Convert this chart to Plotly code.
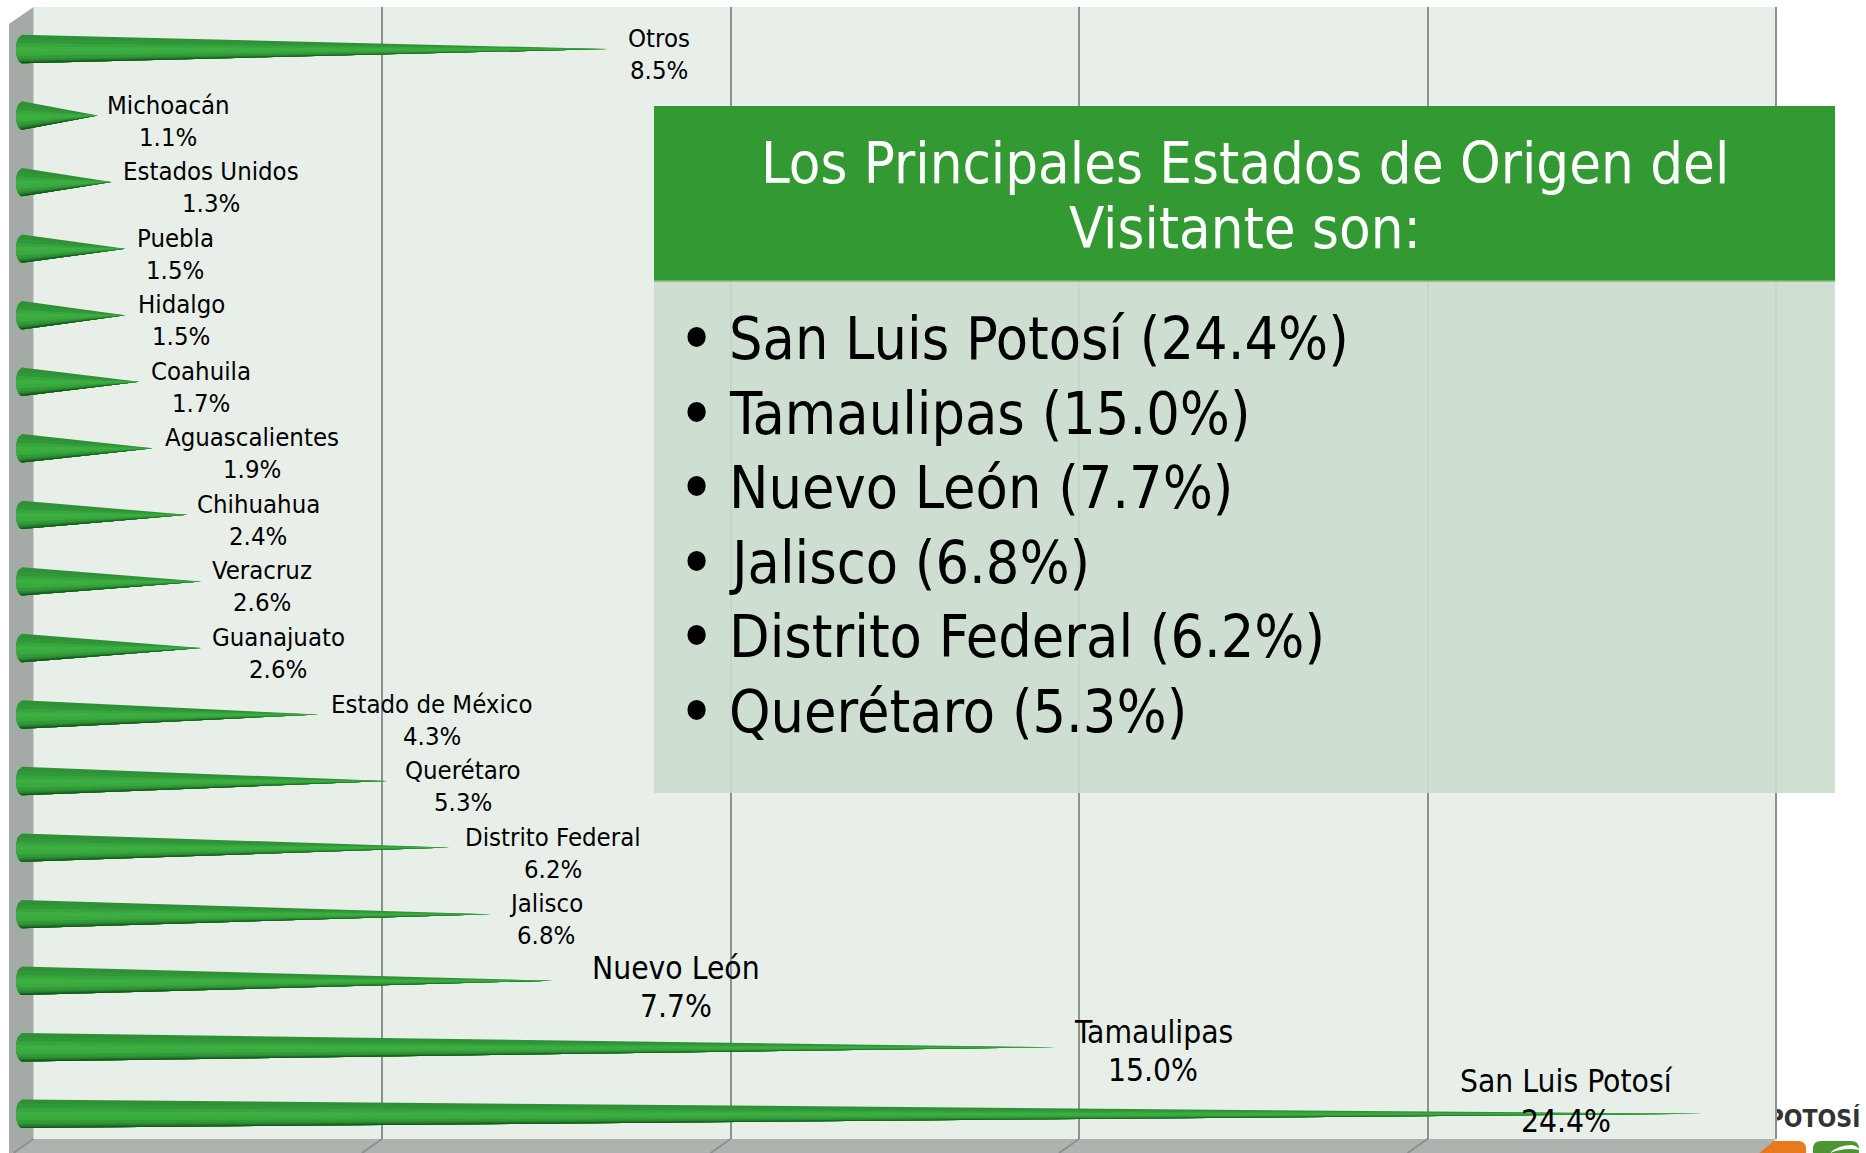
import math
import plotly.graph_objects as go

W, H = 1866, 1153

# ---- data -----------------------------------------------------------------
categories = ["San Luis Potosí", "Tamaulipas", "Nuevo León", "Jalisco", "Distrito Federal",
              "Querétaro", "Estado de México", "Guanajuato", "Veracruz", "Chihuahua",
              "Aguascalientes", "Coahuila", "Hidalgo", "Puebla", "Estados Unidos",
              "Michoacán", "Otros"]
values = [24.4, 15.0, 7.7, 6.8, 6.2, 5.3, 4.3, 2.6, 2.6, 2.4, 1.9, 1.7, 1.5, 1.5, 1.3, 1.1, 8.5]
panel_title_lines = ["Los Principales Estados de Origen del", "Visitante son:"]
panel_count = 6
logo_text = "POTOSÍ"

# ---- layout constants (pixels in the 1866x1153 page) ------------------------
FONT = "DejaVu Sans Condensed, DejaVu Sans, sans-serif"
X0_PX, PX_PER_UNIT = 22.0, 68.9
Y_LAST_PX, PX_PER_CAT = 113.8 + 1000, 66.55
WALL_L, WALL_R, WALL_T, WALL_B = 33.5, 1776.0, 7.0, 1139.0
FRONT_L = 9.0
# label centres (px), same order as categories
label_centres = [1566, 1153, 676, 546, 553, 463, 432, 278, 262, 258, 252, 201, 181, 175, 211, 168, 659]
big_labels = {"San Luis Potosí", "Tamaulipas", "Nuevo León"}
# vertical place of the two label lines above the cone's centre line (px)
label_dy = {"San Luis Potosí": (33, -7), "Tamaulipas": (15, -23), "Nuevo León": (13, -25)}


def px(x):
    return x / W


def py(y):
    return 1 - y / H


def to_x(p):
    return (p - X0_PX) / PX_PER_UNIT


# cone bands: colour from the top edge down to the bottom edge
band_stops = [(-1.00, "#2f9036"), (-0.70, "#31983a"), (-0.40, "#37a53d"), (-0.15, "#3dae42"),
              (0.20, "#3aa93f"), (0.48, "#329b38"), (0.70, "#2a8a30"), (0.84, "#1f6e26"), (0.94, "#14511b")]
HALF = 14.2 / PX_PER_CAT
RX = 6.0 / PX_PER_UNIT

fig = go.Figure()

# first subplot: back wall with its own gridlines (axis in the same percent units)
fig.add_trace(go.Scatter(x=[0], y=[0], mode="markers", marker=dict(opacity=0),
                         xaxis="x", yaxis="y", hoverinfo="skip", showlegend=False))

# second subplot: cones, drawn over the gridlines
for t0, colour in band_stops:
    xs, ys = [], []
    for i, v in enumerate(values):
        n = 10
        for k in range(n + 1):
            t = t0 + (1 - t0) * k / n
            xs.append(-RX * math.sqrt(max(0, 1 - t * t)))
            ys.append(i - t * HALF)
        xs.append(v)
        ys.append(i)
        xs.append(None)
        ys.append(None)
    fig.add_trace(go.Scatter(x=xs, y=ys, mode="lines", fill="toself", fillcolor=colour,
                             line=dict(width=0), xaxis="x2", yaxis="y2",
                             hoverinfo="skip", showlegend=False))

# logo fragment behind the wall
fig.add_trace(go.Scatter(x=[to_x(1814)], y=[(Y_LAST_PX - 1121) / PX_PER_CAT], mode="text",
                         text=["<b>" + logo_text + "</b>"],
                         textfont=dict(family=FONT, size=24.5, color="#333333"),
                         xaxis="x2", yaxis="y2", hoverinfo="skip", showlegend=False))

grid = "#8b918d"
shapes = [
    # logo blocks, under the floor
    dict(type="path", xref="paper", yref="paper", layer="below", line=dict(width=0), fillcolor="#e77a1c",
         path=f"M {px(1750)} {py(1160)} L {px(1750)} {py(1141)} L {px(1798)} {py(1141)} "
              f"Q {px(1806)} {py(1141)} {px(1806)} {py(1149)} L {px(1806)} {py(1160)} Z"),
    dict(type="path", xref="paper", yref="paper", layer="below", line=dict(width=0), fillcolor="#4b9632",
         path=f"M {px(1813)} {py(1160)} L {px(1813)} {py(1149)} Q {px(1813)} {py(1141)} {px(1821)} {py(1141)} "
              f"L {px(1851)} {py(1141)} Q {px(1859)} {py(1141)} {px(1859)} {py(1149)} L {px(1859)} {py(1160)} Z"),
    dict(type="path", xref="paper", yref="paper", layer="below", line=dict(width=0), fillcolor="#ffffff",
         path=f"M {px(1830)} {py(1153)} Q {px(1838)} {py(1145)} {px(1852)} {py(1145)} "
              f"Q {px(1857)} {py(1146)} {px(1859)} {py(1149)} L {px(1859)} {py(1150)} "
              f"Q {px(1845)} {py(1147)} {px(1830)} {py(1153)} Z"),
    # back wall
    dict(type="rect", xref="paper", yref="paper", layer="below", line=dict(width=0), fillcolor="#e8efe9",
         x0=px(WALL_L), x1=px(WALL_R), y0=py(WALL_B), y1=py(WALL_T)),
    # side wall
    dict(type="path", xref="paper", yref="paper", layer="below", line=dict(width=0), fillcolor="#a4aaa6",
         path=f"M {px(FRONT_L)} {py(24)} L {px(WALL_L)} {py(WALL_T)} L {px(WALL_L)} {py(WALL_B)} "
              f"L {px(FRONT_L)} {py(1155)} Z"),
    # floor
    dict(type="path", xref="paper", yref="paper", layer="below", line=dict(width=0), fillcolor="#afb3af",
         path=f"M {px(WALL_L)} {py(WALL_B)} L {px(WALL_R)} {py(WALL_B)} L {px(1757)} {py(1155)} "
              f"L {px(FRONT_L)} {py(1155)} Z"),
    # logo cut by the wall edge
    dict(type="rect", xref="paper", yref="paper", layer="above", line=dict(width=0), fillcolor="#e8efe9",
         x0=px(1745), x1=px(WALL_R), y0=py(1135), y1=py(1105)),
    dict(type="line", xref="paper", yref="paper", layer="above", line=dict(color=grid, width=2),
         x0=px(WALL_R), x1=px(WALL_R), y0=py(WALL_B), y1=py(WALL_T)),
    # panel
    dict(type="rect", xref="paper", yref="paper", layer="above", line=dict(width=0), fillcolor="rgba(203,221,206,0.92)",
         x0=px(654), x1=px(1835), y0=py(793), y1=py(281)),
    dict(type="rect", xref="paper", yref="paper", layer="above", line=dict(width=0), fillcolor="#339933",
         x0=px(654), x1=px(1835), y0=py(281), y1=py(106)),
    dict(type="line", xref="paper", yref="paper", layer="above", line=dict(color="#7dbb7d", width=1.5),
         x0=px(654), x1=px(1835), y0=py(281), y1=py(281)),
]
# slanted floor ticks continuing the gridlines
for k in range(5):
    xb = WALL_L + k * (WALL_R - WALL_L) / 5
    shapes.append(dict(type="line", xref="paper", yref="paper", layer="below", line=dict(color=grid, width=2),
                       x0=px(xb), x1=px(xb - 20), y0=py(WALL_B), y1=py(1153)))

annotations = []
for i, (name, v) in enumerate(zip(categories, values)):
    tip_px = X0_PX + v * PX_PER_UNIT
    big = name in big_labels
    dy_name, dy_val = label_dy.get(name, (11, -21))
    for text, dy in ((name, dy_name), (f"{v:.1f}%", dy_val)):
        annotations.append(dict(x=v, y=i, xref="x2", yref="y2", xanchor="center", yanchor="middle",
                                xshift=label_centres[i] - tip_px, yshift=dy, showarrow=False, text=text,
                                font=dict(family=FONT, size=31.5 if big else 25.5, color="#000000")))

for line, y in zip(panel_title_lines, (163, 228)):
    annotations.append(dict(x=px(1245), y=py(y), xref="paper", yref="paper", xanchor="center", yanchor="middle",
                            showarrow=False, text=line, font=dict(family=FONT, size=57.5, color="#ffffff")))

top = sorted(zip(categories[:-1], values[:-1]), key=lambda t: -t[1])[:panel_count]
for j, (name, v) in enumerate(top):
    y = 339 + j * 74.5
    annotations.append(dict(x=px(696), y=py(y), xref="paper", yref="paper", xanchor="center", yanchor="middle",
                            showarrow=False, text="•", font=dict(family=FONT, size=70, color="#000000")))
    annotations.append(dict(x=px(727), y=py(y), xref="paper", yref="paper", xanchor="left", yanchor="middle",
                            showarrow=False, text=f"{name} ({v:.1f}%)",
                            font=dict(family=FONT, size=58.7, color="#000000")))

fig.update_layout(
    width=W, height=H, autosize=False,
    margin=dict(l=0, r=0, t=0, b=0, pad=0),
    paper_bgcolor="#ffffff", plot_bgcolor="rgba(0,0,0,0)",
    showlegend=False, shapes=shapes, annotations=annotations,
    xaxis=dict(domain=[px(WALL_L), px(WALL_R)], range=[0, 25], dtick=5, tick0=0, showgrid=True,
               gridcolor=grid, gridwidth=2, zeroline=False, showticklabels=False, ticks="", showline=False,
               anchor="y"),
    yaxis=dict(domain=[py(WALL_B), py(WALL_T)], range=[0, 1], visible=False, anchor="x"),
    xaxis2=dict(domain=[0, 1], range=[to_x(0), to_x(W)], visible=False, anchor="y2"),
    yaxis2=dict(domain=[0, 1], range=[(Y_LAST_PX - H) / PX_PER_CAT, Y_LAST_PX / PX_PER_CAT],
                visible=False, anchor="x2"),
)

fig.write_html("out.html", config=dict(displayModeBar=False),
               post_script="document.body.style.margin='0';document.body.style.overflow='hidden';")
